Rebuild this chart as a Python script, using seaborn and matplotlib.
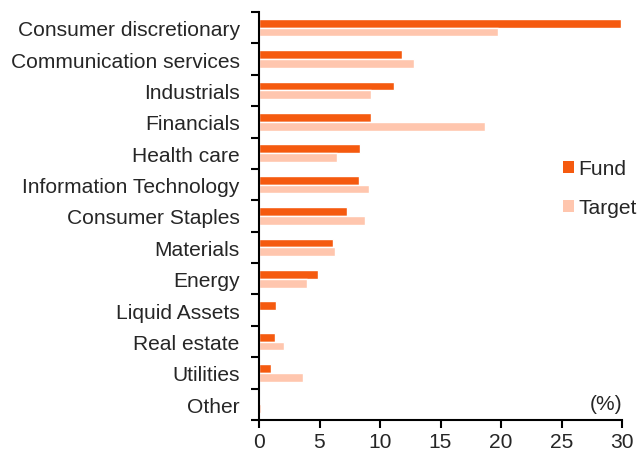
import matplotlib
matplotlib.use("Agg")
import matplotlib.pyplot as plt
import seaborn as sns
import pandas as pd
import numpy as np
from matplotlib.ticker import FixedLocator
from matplotlib.patches import Patch

categories = ["Consumer discretionary", "Communication services", "Industrials", "Financials",
              "Health care", "Information Technology", "Consumer Staples", "Materials",
              "Energy", "Liquid Assets", "Real estate", "Utilities", "Other"]
fund = [29.9, 11.8, 11.15, 9.25, 8.35, 8.25, 7.25, 6.1, 4.9, 1.4, 1.3, 1.0, 0.0]
target = [19.75, 12.85, 9.25, 18.65, 6.45, 9.05, 8.75, 6.25, 3.95, 0.0, 2.1, 3.6, 0.15]
series = ["Fund", "Target"]
colors = ["#F55A0F", "#FFC6AE"]
xticks = [0, 5, 10, 15, 20, 25, 30]

df = pd.DataFrame({
    "category": categories * 2,
    "value": fund + target,
    "series": [series[0]] * len(categories) + [series[1]] * len(categories),
})

sns.set_style("white")
plt.rcParams["font.family"] = ["Liberation Sans", "DejaVu Sans"]
FS = 15.1

fig = plt.figure(figsize=(6.41, 4.52), dpi=100)
ax = fig.add_axes([259 / 641, 1 - 421 / 452, (622 - 259) / 641, (421 - 13) / 452])

sns.barplot(data=df, x="value", y="category", hue="series", order=categories,
            hue_order=series, palette=colors, orient="h", width=0.56,
            saturation=1, ax=ax, legend=False)

ax.set_xlim(0, 30)
ax.set_ylim(len(categories) - 0.5, -0.5)
ax.set_xticks(xticks)
ax.set_xticklabels([str(t) for t in xticks], fontsize=FS)
ax.set_xlabel("")
ax.set_ylabel("")
ax.tick_params(axis="y", which="major", length=0, labelsize=FS, pad=14)
ax.yaxis.set_minor_locator(FixedLocator(np.arange(-0.5, len(categories), 1)))
ax.tick_params(axis="y", which="minor", length=6, width=1.5, direction="out", color="black", left=True)
ax.tick_params(axis="x", which="major", length=6, width=1.5, direction="out", color="black", bottom=True, pad=3)
for s in ["top", "right"]:
    ax.spines[s].set_visible(False)
for s in ["left", "bottom"]:
    ax.spines[s].set_color("black")
    ax.spines[s].set_linewidth(1.5)

ax.text(1.0, 0.018, "(%)", transform=ax.transAxes, ha="right", va="bottom", fontsize=FS)

handles = [Patch(facecolor=c, edgecolor="none") for c in colors]
fig.legend(handles, series, loc="upper left", bbox_to_anchor=(555 / 641, 1 - 152 / 452),
           frameon=False, fontsize=FS, handlelength=0.5, handleheight=0.5,
           handletextpad=0.2, labelspacing=0.95, borderaxespad=0)

fig.savefig("out.png", dpi=100, facecolor="white")
